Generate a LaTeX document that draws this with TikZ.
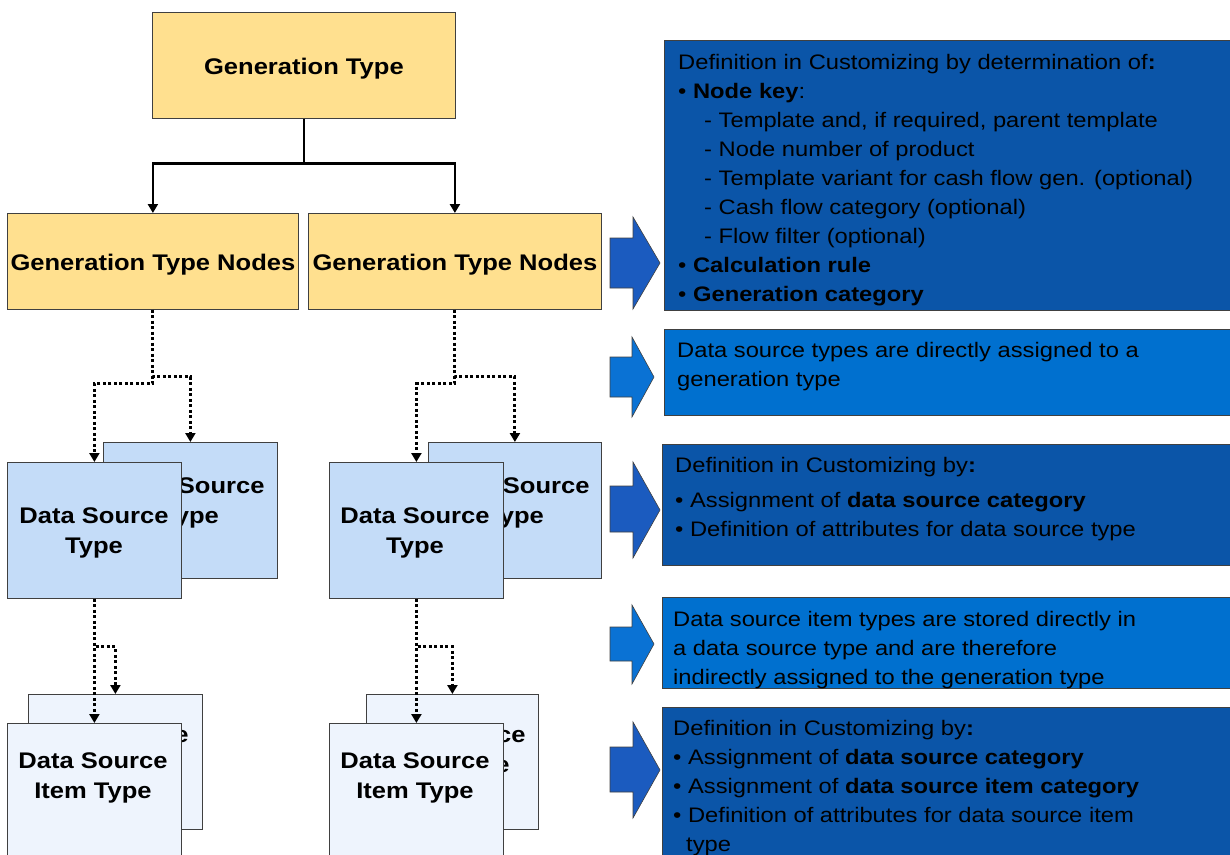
\documentclass[tikz,border=0pt]{standalone}
\usepackage{fontspec}
\setmainfont{Liberation Sans}
\newfontfamily\stretchfont{Liberation Sans}[FakeStretch=1.13]
\newcommand{\lbold}{\stretchfont\bfseries\fontsize{22.6}{30}\selectfont}
\newcommand{\rtext}{\stretchfont\fontsize{21}{29}\selectfont}
\usetikzlibrary{arrows.meta}
\definecolor{ybox}{HTML}{FFE08F}
\definecolor{bbox}{HTML}{C4DCF8}
\definecolor{lbox}{HTML}{EEF4FD}
\definecolor{dblue}{HTML}{0B55A8}
\definecolor{bblue}{HTML}{0070CF}
\definecolor{darr}{HTML}{1B5BBF}
\definecolor{barr}{HTML}{0A72D4}
\definecolor{edge}{HTML}{404040}
\begin{document}
\begin{tikzpicture}[x=1pt,y=-1pt,
  box/.style={draw=edge,line width=0.8pt,inner sep=0pt,anchor=north west},
  ttl/.style={font=\lbold,align=center,text=black,inner sep=0pt},
  info/.style={font=\rtext,align=left,inner sep=0pt,anchor=north west,text=black},
  solidc/.style={line width=2.8pt,-{Triangle[width=10pt,length=9pt]}},
  dotc/.style={line width=3pt,dash pattern=on 3pt off 2.5pt,-{Triangle[width=10pt,length=9pt]}},
  barrow/.style={draw=edge,line width=0.6pt}]
\useasboundingbox (0,0) rectangle (1230,854);
\clip (0,0) rectangle (1230,854);

% top
\node[box,fill=ybox,minimum width=303,minimum height=106] (gt) at (152,12) {};
\node[ttl] (gtt) at ([yshift=-3]gt.center) {Generation Type};
\node[box,fill=ybox,minimum width=291,minimum height=96] (gtn1) at (7,213) {};
\node[ttl] (gtn1t) at ([yshift=-3]gtn1.center) {Generation Type Nodes};
\node[box,fill=ybox,minimum width=293,minimum height=96] (gtn2) at (308,213) {};
\node[ttl] (gtn2t) at ([yshift=-3]gtn2.center) {Generation Type Nodes};

\draw[solidc] (gt.south) -- ++(0,45) -| (gtn1.north);
\draw[solidc] (gt.south) -- ++(0,45) -| (gtn2.north);

% back boxes
\node[box,fill=bbox,minimum width=174,minimum height=136] (dstb1) at (103,442) {};
\node[ttl] (dstb1t) at (190,503) {Data Source\\Type};
\node[box,fill=bbox,minimum width=173,minimum height=136] (dstb2) at (428,442) {};
\node[ttl] (dstb2t) at (515,503) {Data Source\\Type};
\node[box,fill=lbox,minimum width=174,minimum height=135] (itb1) at (28,694) {};
\node[ttl] (itb1t) at (114,752) {Data Source\\Item Type};
\node[box,fill=lbox,minimum width=172,minimum height=135] (itb2) at (366,694) {};
\node[ttl] (itb2t) at (451,752) {Data Source\\Item Type};

% front boxes
\node[box,fill=bbox,minimum width=174,minimum height=136] (dstf1) at (7,462) {};
\node[ttl] (dstf1t) at (94,533) {Data Source\\Type};
\node[box,fill=bbox,minimum width=174,minimum height=136] (dstf2) at (329,462) {};
\node[ttl] (dstf2t) at (415,533) {Data Source\\Type};

% dotted connectors
\draw[dotc] (gtn1.south) -- ++(0,67) -| (dstb1.north);
\draw[dotc] (gtn1.south) -- ++(0,74) -| (dstf1.north);
\draw[dotc] (gtn2.south) -- ++(0,67) -| (dstb2.north);
\draw[dotc] (gtn2.south) -- ++(0,74) -| (dstf2.north);
\draw[dotc] (dstf1.south) -- ++(0,48) -| (itb1.north);
\draw[dotc] (dstf1.south) -- (dstf1.south |- 0,723);
\draw[dotc] (dstf2.south) -- ++(0,48) -| (itb2.north);
\draw[dotc] (dstf2.south) -- (dstf2.south |- 0,723);

\node[box,fill=lbox,minimum width=174,minimum height=150] (itf1) at (7,723) {};
\node[ttl] (itf1t) at (93,778) {Data Source\\Item Type};
\node[box,fill=lbox,minimum width=174,minimum height=150] (itf2) at (329,723) {};
\node[ttl] (itf2t) at (415,778) {Data Source\\Item Type};

% block arrows
\fill[darr,barrow] (610,238) -- (633,238) -- (633,217) -- (660,263) -- (633,309) -- (633,288) -- (610,288) -- cycle;
\fill[barr,barrow] (610,357) -- (632,357) -- (632,337) -- (654,377) -- (632,417) -- (632,397) -- (610,397) -- cycle;
\fill[darr,barrow] (610,486) -- (633,486) -- (633,462) -- (660,510) -- (633,558) -- (633,532) -- (610,532) -- cycle;
\fill[barr,barrow] (610,627) -- (632,627) -- (632,605) -- (654,644) -- (632,684) -- (632,661) -- (610,661) -- cycle;
\fill[darr,barrow] (610,747) -- (633,747) -- (633,722) -- (660,770) -- (633,818) -- (633,792) -- (610,792) -- cycle;

% right boxes
\node[box,fill=dblue,minimum width=570,minimum height=270] (b1) at (664,40) {};
\node[box,fill=bblue,minimum width=570,minimum height=86] (b2) at (664,329) {};
\node[box,fill=dblue,minimum width=572,minimum height=121] (b3) at (662,444) {};
\node[box,fill=bblue,minimum width=572,minimum height=91] (b4) at (662,597) {};
\node[box,fill=dblue,minimum width=572,minimum height=160] (b5) at (662,707) {};

\node[info] (t1) at (678,54) {Definition in Customizing by determination of\textbf{:}\\
• \textbf{Node key}:\\
\hspace*{26pt}- Template and, if required, parent template\\
\hspace*{26pt}- Node number of product\\
\hspace*{26pt}- Template variant for cash flow gen. (optional)\\
\hspace*{26pt}- Cash flow category (optional)\\
\hspace*{26pt}- Flow filter (optional)\\
• \textbf{Calculation rule}\\
• \textbf{Generation category}};
\node[info] (t2) at (677,342) {Data source types are directly assigned to a\\generation type};
\node[info] (t3) at (675,457) {Definition in Customizing by\textbf{:}\\[6pt]
• Assignment of \textbf{data source category}\\
• Definition of attributes for data source type};
\node[info] (t4) at (673,611) {Data source item types are stored directly in\\
a data source type and are therefore\\
indirectly assigned to the generation type};
\node[info] (t5) at (673,720) {Definition in Customizing by\textbf{:}\\
• Assignment of \textbf{data source category}\\
• Assignment of \textbf{data source item category}\\
• Definition of attributes for data source item\\
\hspace*{13pt}type};
\end{tikzpicture}
\end{document}
